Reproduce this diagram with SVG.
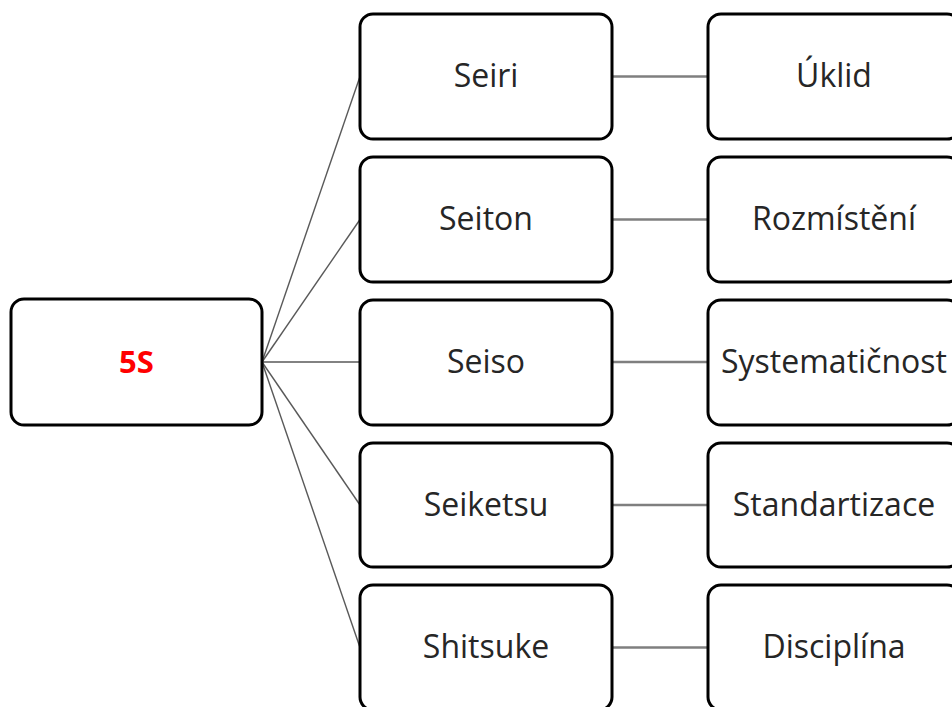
<svg xmlns="http://www.w3.org/2000/svg" width="952" height="707" viewBox="0 0 952 707">
  <style>
    .box { fill: #ffffff; stroke: #000000; stroke-width: 3; }
    .lbl { font-family: "Open Sans", "Noto Sans", "Liberation Sans", sans-serif; font-size: 32px; fill: #262626; text-anchor: middle; }
    .root { font-family: "Open Sans", "Noto Sans", "Liberation Sans", sans-serif; font-size: 31px; font-weight: bold; fill: #ff0000; text-anchor: middle; }
    .conn line { stroke: #595959; stroke-width: 1.4; }
    .conn .h { stroke: #7f7f7f; stroke-width: 2.5; }
  </style>
  <rect width="952" height="707" fill="#ffffff"/>

  <g id="connectors" class="conn">
    <line x1="262" y1="362" x2="360" y2="76.5"/>
    <line x1="262" y1="362" x2="360" y2="219.5"/>
    <line x1="262" y1="362" x2="360" y2="362"/>
    <line x1="262" y1="362" x2="360" y2="505"/>
    <line x1="262" y1="362" x2="360" y2="647.5"/>
    <line class="h" x1="612" y1="76.5" x2="708" y2="76.5"/>
    <line class="h" x1="612" y1="219.5" x2="708" y2="219.5"/>
    <line class="h" x1="612" y1="362" x2="708" y2="362"/>
    <line class="h" x1="612" y1="505" x2="708" y2="505"/>
    <line class="h" x1="612" y1="647.5" x2="708" y2="647.5"/>
  </g>

  <g id="node-5s">
    <rect class="box" x="11" y="299" width="251" height="126" rx="13"/>
    <text class="root" x="136.5" y="373">5S</text>
  </g>

  <g id="node-seiri">
    <rect class="box" x="360" y="14" width="252" height="125" rx="13"/>
    <text class="lbl" x="486" y="87">Seiri</text>
  </g>
  <g id="node-seiton">
    <rect class="box" x="360" y="157" width="252" height="125" rx="13"/>
    <text class="lbl" x="486" y="230">Seiton</text>
  </g>
  <g id="node-seiso">
    <rect class="box" x="360" y="300" width="252" height="125" rx="13"/>
    <text class="lbl" x="486" y="373">Seiso</text>
  </g>
  <g id="node-seiketsu">
    <rect class="box" x="360" y="443" width="252" height="124" rx="13"/>
    <text class="lbl" x="486" y="516">Seiketsu</text>
  </g>
  <g id="node-shitsuke">
    <rect class="box" x="360" y="585" width="252" height="125" rx="13"/>
    <text class="lbl" x="486" y="658">Shitsuke</text>
  </g>

  <g id="node-uklid">
    <rect class="box" x="708" y="14" width="252" height="125" rx="13"/>
    <text class="lbl" x="834" y="87">Úklid</text>
  </g>
  <g id="node-rozmisteni">
    <rect class="box" x="708" y="157" width="252" height="125" rx="13"/>
    <text class="lbl" x="834" y="230">Rozmístění</text>
  </g>
  <g id="node-systematicnost">
    <rect class="box" x="708" y="300" width="252" height="125" rx="13"/>
    <text class="lbl" x="834" y="373">Systematičnost</text>
  </g>
  <g id="node-standartizace">
    <rect class="box" x="708" y="443" width="252" height="124" rx="13"/>
    <text class="lbl" x="834" y="516">Standartizace</text>
  </g>
  <g id="node-disciplina">
    <rect class="box" x="708" y="585" width="252" height="125" rx="13"/>
    <text class="lbl" x="834" y="658">Disciplína</text>
  </g>
</svg>
